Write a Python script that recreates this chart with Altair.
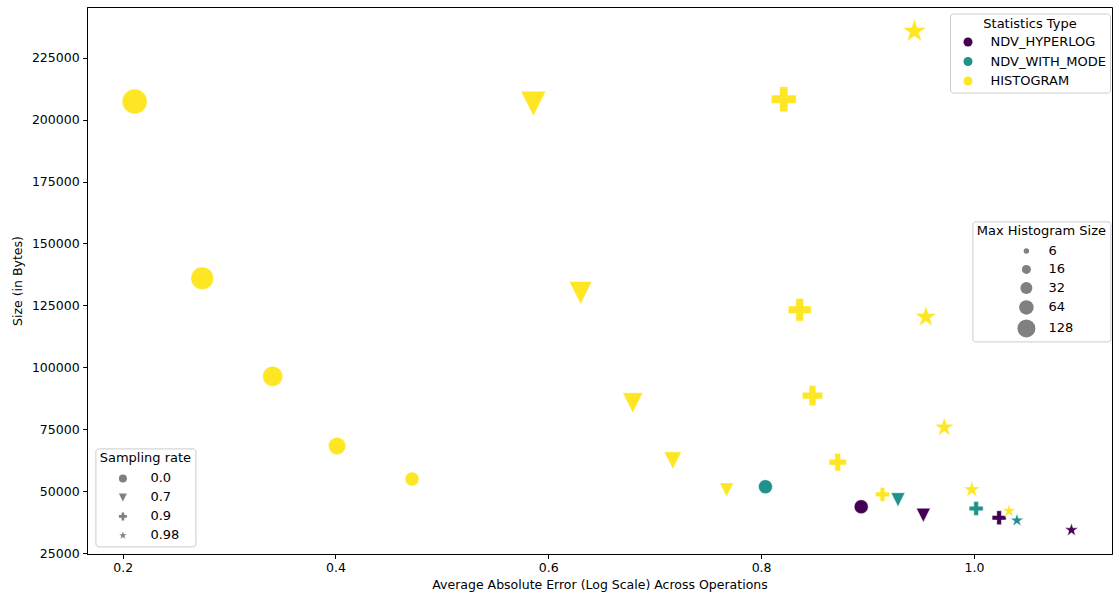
import altair as alt
import pandas as pd

# ---------------- data ----------------
rate_levels = ["0.0", "0.7", "0.9", "0.98"]
size_levels = ["6", "16", "32", "64", "128"]
type_levels = ["NDV_HYPERLOG", "NDV_WITH_MODE", "HISTOGRAM"]

hist_rates = ["0.0"] * 5 + ["0.7"] * 5 + ["0.9"] * 5 + ["0.98"] * 5
hist_sizes = ["128", "64", "32", "16", "6"] * 4
hist_error = [0.2113, 0.2748, 0.3410, 0.4015, 0.4720,
              0.5860, 0.6304, 0.6794, 0.7171, 0.7676,
              0.8213, 0.8363, 0.8483, 0.8720, 0.9141,
              0.9441, 0.9549, 0.9722, 0.9980, 1.0330]
hist_bytes = [207310, 135950, 96370, 68260, 54930,
              206420, 130050, 85660, 62400, 50530,
              208240, 123230, 88570, 61710, 48710,
              235660, 120320, 75730, 50650, 42000]

ndv_rates = ["0.0", "0.7", "0.9", "0.98"]
mode_error = [0.8041, 0.9287, 1.0021, 1.0405]
mode_bytes = [51820, 46570, 43010, 38210]
hyper_error = [0.8941, 0.9525, 1.0237, 1.0917]
hyper_bytes = [43740, 40310, 39300, 34330]

x_ticks = [0.2, 0.4, 0.6, 0.8, 1.0]
y_ticks = [25000, 50000, 75000, 100000, 125000, 150000, 175000, 200000, 225000]

hist_df = pd.DataFrame({
    "err": hist_error, "bytes": hist_bytes, "rate": hist_rates,
    "hsize": hist_sizes, "stype": ["HISTOGRAM"] * len(hist_error)})
ndv_df = pd.DataFrame({
    "err": mode_error + hyper_error,
    "bytes": mode_bytes + hyper_bytes,
    "rate": ndv_rates + ndv_rates,
    "stype": ["NDV_WITH_MODE"] * 4 + ["NDV_HYPERLOG"] * 4})

# ---------------- marker shapes (matplotlib o, v, P, *) ----------------
TRI = "M-1,-1L1,-1L0,1Z"
PLUS = ("M-0.333,-1L0.333,-1L0.333,-0.333L1,-0.333L1,0.333L0.333,0.333L0.333,1"
        "L-0.333,1L-0.333,0.333L-1,0.333L-1,-0.333L-0.333,-0.333Z")
STAR = ("M0,-1L0.2245,-0.309L0.9511,-0.309L0.3633,0.118L0.5878,0.809L0,0.382"
        "L-0.5878,0.809L-0.3633,0.118L-0.9511,-0.309L-0.2245,-0.309Z")
shape_range = ["circle", TRI, PLUS, STAR]
viridis3 = ["#440154", "#21918c", "#fde725"]
size_range = [196, 303, 410, 518, 625]        # marks
legend_size_range = [30, 81, 144, 210, 324]   # legend symbols (smaller, as in matplotlib legend)

FONT = "DejaVu Sans"
FS = 12.5
LFS = 13

x_enc = alt.X("err:Q",
              scale=alt.Scale(domain=[0.1665, 1.1298], nice=False, zero=False),
              axis=alt.Axis(values=x_ticks, format=".1f",
                            title="Average Absolute Error (Log Scale) Across Operations"))
y_enc = alt.Y("bytes:Q",
              scale=alt.Scale(domain=[24654, 245456], nice=False, zero=False),
              axis=alt.Axis(values=y_ticks, format="d", title="Size (in Bytes)"))

color_enc = alt.Color("stype:N",
                      scale=alt.Scale(domain=type_levels, range=viridis3),
                      legend=alt.Legend(title="Statistics Type", orient="none",
                                        legendX=863, legendY=6.5,
                                        symbolSize=81, symbolType="circle",
                                        symbolStrokeWidth=0,
                                        padding=4, titlePadding=5, rowPadding=5.5,
                                        symbolOffset=7.5, labelOffset=16))
shape_enc = alt.Shape("rate:N",
                      scale=alt.Scale(domain=rate_levels, range=shape_range),
                      legend=alt.Legend(title="Sampling rate", orient="none",
                                        legendX=8.4, legendY=441.4,
                                        symbolSize=64, symbolFillColor="#808080",
                                        symbolStrokeWidth=0,
                                        padding=4, titlePadding=6.5, rowPadding=5,
                                        symbolOffset=5, labelOffset=21))

# layer that only carries the size legend (small markers hidden under the real ones)
legend_layer = alt.Chart(hist_df).mark_point(
    filled=True, opacity=1, strokeWidth=0
).encode(
    x=x_enc, y=y_enc, color=color_enc, shape=shape_enc,
    size=alt.Size("hsize:N",
                  scale=alt.Scale(type="ordinal", domain=size_levels, range=legend_size_range),
                  legend=alt.Legend(title="Max Histogram Size", orient="none",
                                    legendX=885.4, legendY=214.4,
                                    symbolType="circle",
                                    symbolFillColor="#808080", symbolStrokeWidth=0,
                                    padding=4, titlePadding=6, rowPadding=4.5,
                                    symbolOffset=8, labelOffset=13)))

ndv_layer = alt.Chart(ndv_df).mark_point(
    filled=True, opacity=1, stroke="white", strokeWidth=0.5, size=196
).encode(x=x_enc, y=y_enc, color=color_enc, shape=shape_enc)

hist_layer = alt.Chart(hist_df).mark_point(
    filled=True, opacity=1, stroke="white", strokeWidth=0.5
).encode(
    x=x_enc, y=y_enc, color=color_enc, shape=shape_enc,
    size=alt.Size("hsize:N",
                  scale=alt.Scale(type="ordinal", domain=size_levels, range=size_range),
                  legend=None))

chart = alt.layer(legend_layer, ndv_layer, hist_layer).resolve_scale(
    size="independent"
).properties(
    width=1025, height=547,
    autosize=alt.AutoSizeParams(type="none"),
    padding={"left": 87, "top": 7, "right": 1, "bottom": 45},
).configure(font=FONT).configure_view(
    stroke="black", strokeWidth=1
).configure_axis(
    grid=False, labelFont=FONT, titleFont=FONT, labelFontSize=FS, titleFontSize=FS,
    titleFontWeight="normal", labelColor="black", titleColor="black",
    tickColor="black", domainColor="black", tickSize=4.4, tickWidth=1,
    domainWidth=1, labelPadding=3.5,
).configure_axisX(titlePadding=4).configure_axisY(titlePadding=7).configure_legend(
    fillColor="white", strokeColor="#cccccc", cornerRadius=3,
    titleFont=FONT, labelFont=FONT, titleFontSize=LFS, labelFontSize=LFS,
    titleFontWeight="normal", titleColor="black", labelColor="black",
    titleAnchor="middle",
)

chart.save("out.html", embed_options={"renderer": "svg", "actions": False})
